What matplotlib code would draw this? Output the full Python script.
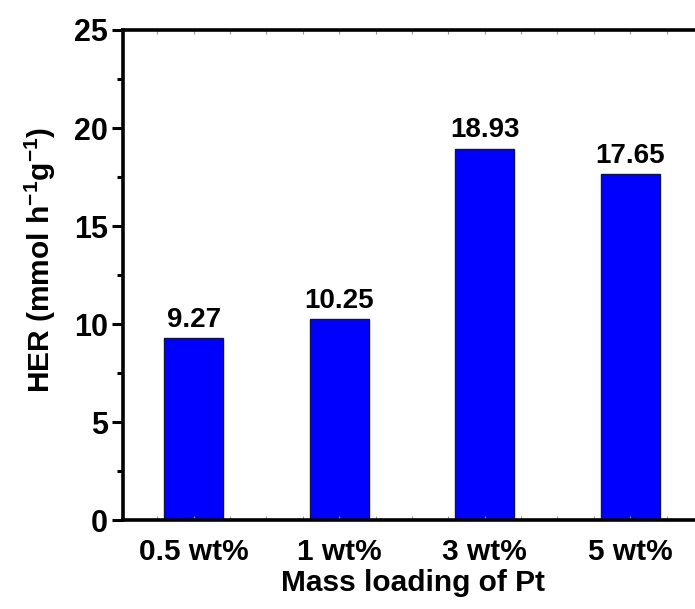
import matplotlib
matplotlib.use("Agg")
import matplotlib.pyplot as plt
from matplotlib.ticker import MultipleLocator

# dades llegides del grafic
carregues = ["0.5 wt%", "1 wt%", "3 wt%", "5 wt%"]
her_vals = [9.27, 10.25, 18.93, 17.65]
etiquetes_valor = ["9.27", "10.25", "18.93", "17.65"]
y_ticks = [0, 5, 10, 15, 20, 25]

plt.rcParams['font.family'] = ['Liberation Sans', 'DejaVu Sans']
plt.rcParams['font.weight'] = 'bold'
plt.rcParams['mathtext.fontset'] = 'custom'
plt.rcParams['mathtext.rm'] = 'Liberation Sans:bold'
plt.rcParams['mathtext.default'] = 'rm'

fig = plt.figure(figsize=(6.95, 6.09), dpi=100)
ax = fig.add_axes([123/695, 1 - 520/609, 580/695, 490/609])

pos = list(range(len(carregues)))
barres = ax.bar(pos, her_vals, width=0.405, color="#0000FF", edgecolor="#10105a", linewidth=1.0)
ax.bar_label(barres, labels=etiquetes_valor, padding=4, fontsize=20, fontweight='bold')

ax.set_xlim(-0.485, 3.5)
ax.set_ylim(0, 25)

for s in ax.spines.values():
    s.set_linewidth(2.6)

ax.set_yticks(y_ticks)
ax.yaxis.set_minor_locator(MultipleLocator(2.5))
ax.tick_params(axis='y', which='major', direction='out', length=8, width=2.2, labelsize=22, pad=3, right=False)
ax.tick_params(axis='y', which='minor', direction='out', length=4.5, width=2.2, right=False)

ax.set_xticks(pos)
ax.set_xticklabels(carregues)
ax.xaxis.set_minor_locator(MultipleLocator(0.25))
ax.tick_params(axis='x', which='both', direction='in', length=3, width=0.8, color='#999999', top=True, labelsize=21.5, pad=13)

ax.set_xlabel("Mass loading of Pt", fontsize=21.5, fontweight='bold', labelpad=2)
ax.set_ylabel("HER (mmol h$^{-1}$g$^{-1}$)", fontsize=21.5, fontweight='bold')
ax.yaxis.set_label_coords(-0.112, 0.53)

fig.savefig("out.png", dpi=100)
